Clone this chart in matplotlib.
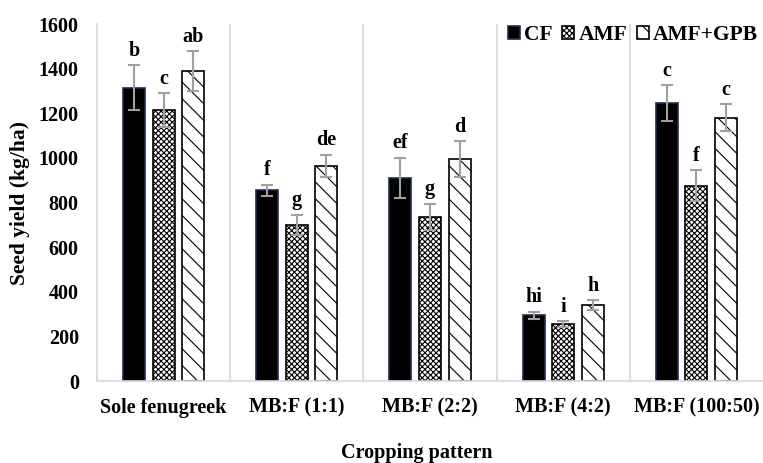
import numpy as np
import matplotlib.pyplot as plt

plt.rcParams['font.family'] = ['Liberation Serif', 'DejaVu Serif']
plt.rcParams['font.weight'] = 'bold'
plt.rcParams['hatch.linewidth'] = 0.8

patterns = ["Sole fenugreek", "MB:F (1:1)", "MB:F (2:2)", "MB:F (4:2)", "MB:F (100:50)"]
series = ["CF", "AMF", "AMF+GPB"]

cf = [1315, 855, 910, 295, 1245]
amf = [1215, 700, 735, 255, 875]
amf_gpb = [1390, 965, 995, 340, 1180]

cf_err = [100, 25, 90, 15, 80]
amf_err = [75, 45, 60, 12, 70]
amf_gpb_err = [88, 50, 80, 22, 60]

cf_letters = ["b", "f", "ef", "hi", "c"]
amf_letters = ["c", "g", "g", "i", "f"]
amf_gpb_letters = ["ab", "de", "d", "h", "c"]

fig = plt.figure(figsize=(7.63, 4.63), dpi=100)
ax = fig.add_axes([0.127, 0.177, 0.873, 0.771])

x = np.arange(len(patterns))
w = 0.165
off = 0.222
styles = [
    dict(facecolor="black", edgecolor="#1f2d4d", hatch=None),
    dict(facecolor="white", edgecolor="black", hatch="xxxxxx"),
    dict(facecolor="white", edgecolor="black", hatch="\\\\"),
]
vals = [cf, amf, amf_gpb]
errs = [cf_err, amf_err, amf_gpb_err]
letters = [cf_letters, amf_letters, amf_gpb_letters]

for i, name in enumerate(series):
    xs = x + (i - 1) * off
    ax.bar(xs, vals[i], width=w, linewidth=1.2, label=name, **styles[i])
    ax.errorbar(xs, vals[i], yerr=errs[i], fmt='none', ecolor="#a0a0a0",
                elinewidth=1.5, capsize=4, capthick=1.5)
    for xi, v, e, t in zip(xs, vals[i], errs[i], letters[i]):
        ax.text(xi, v + e + 20, t, ha='center', va='bottom', fontsize=14.5, fontweight='bold')

# group separators
for s in np.arange(0.5, len(patterns) - 0.5, 1):
    ax.axvline(s, color="#d9d9d9", linewidth=1.2)

ax.set_xlim(-0.5, len(patterns) - 0.5)
ax.set_ylim(0, 1600)
ax.set_yticks(np.arange(0, 1601, 200))
ax.set_xticks(x)
ax.set_xticklabels(patterns, fontsize=14.5, fontweight='bold')
ax.tick_params(axis='y', labelsize=14.5, length=0, pad=13)
ax.tick_params(axis='x', length=0, pad=12)
for sp in ['top', 'right']:
    ax.spines[sp].set_visible(False)
ax.spines['left'].set_color("#d9d9d9")
ax.spines['bottom'].set_color("#d9d9d9")
ax.spines['left'].set_linewidth(1.2)
ax.spines['bottom'].set_linewidth(1.2)

ax.set_ylabel("Seed yield (kg/ha)", fontsize=15.5, fontweight='bold', va='center')
ax.yaxis.set_label_coords(-0.116, 0.5)
ax.set_xlabel("Cropping pattern", fontsize=14.5, fontweight='bold', va='center')
ax.xaxis.set_label_coords(0.48, -0.202)

ax.legend(loc='center right', bbox_to_anchor=(0.993, 0.969), ncol=3, frameon=False,
          prop={'size': 15.5, 'weight': 'bold'}, handlelength=0.55, handleheight=0.55,
          handletextpad=0.2, columnspacing=0.45, borderaxespad=0, borderpad=0)

fig.savefig("out.png", dpi=100)
